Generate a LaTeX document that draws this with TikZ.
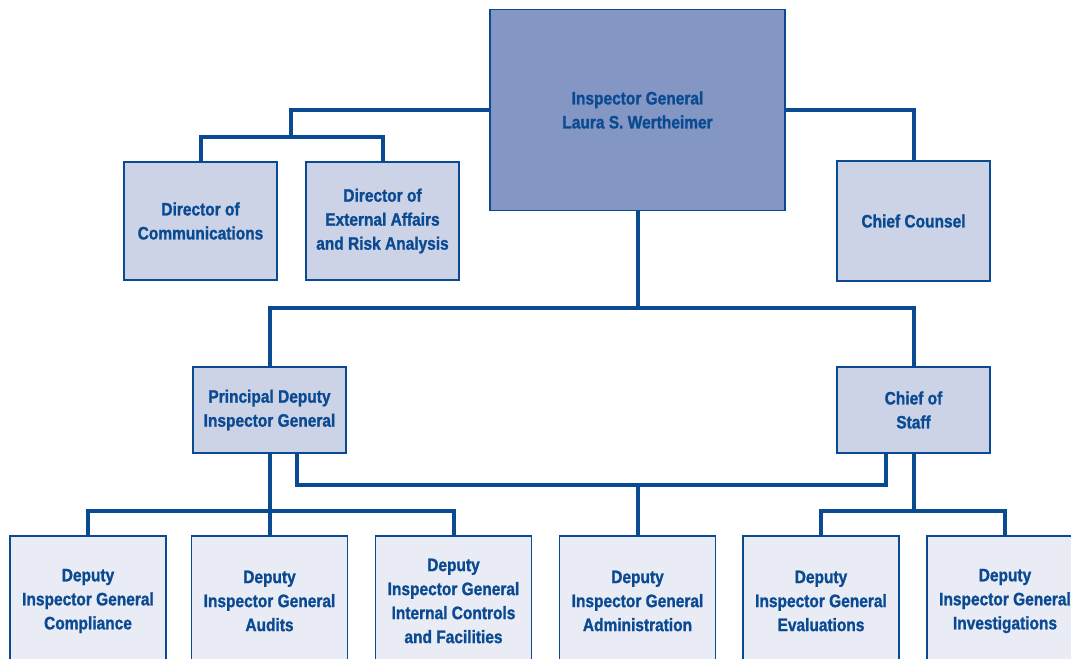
\documentclass[tikz,border=0pt]{standalone}
\usepackage{fontspec}
\newfontfamily\orgfont[FakeStretch=0.86, BoldFeatures={FakeBold=1.2}]{Liberation Sans}
\usetikzlibrary{positioning, calc}
\definecolor{oigblue}{RGB}{10, 74, 146}
\definecolor{topfill}{RGB}{132, 150, 196}
\definecolor{midfill}{RGB}{205, 211, 230}
\definecolor{lowfill}{RGB}{233, 235, 245}

\begin{document}
\begin{tikzpicture}[
  x=0.75pt, y=-0.75pt,
  box/.style={draw=oigblue, line width=0.9pt, align=center, inner sep=2pt,
    text=oigblue, font=\orgfont\bfseries\fontsize{13.5}{18}\selectfont},
  office/.style={box, fill=midfill, minimum width=114.75pt, minimum height=88.5pt},
  deputy/.style={box, fill=midfill, minimum width=114.75pt, minimum height=64.5pt},
  unit/.style={box, fill=lowfill, minimum width=117pt, minimum height=97.5pt},
  link/.style={draw=oigblue, line width=3pt, line join=miter},
]
\useasboundingbox (0,0) rectangle (1071,658);

% Inspector General
\node[box, fill=topfill, minimum width=221.25pt, minimum height=150.75pt] (ig) at (637.5,110)
{Inspector General\\Laura S. Wertheimer};

% Immediate office
\node[office] (comm) at (200.5,221) {Director of\\Communications};
\node[office] (ext) at (382.5,221) {Director of\\External Affairs\\and Risk Analysis};
\node[office, minimum height=90pt] (counsel) at (913.5,221) {Chief Counsel};

% Deputies
\node[deputy] (pdig) at (269.5,410) {Principal Deputy\\Inspector General};
\node[deputy] (cos) at (913.5,410) {Chief of\\Staff};

% Offices of the deputy inspectors general
\node[unit] (compl) at (88,601) {Deputy\\Inspector General\\Compliance};
\node[unit] (audits) at (269.5,601) {Deputy\\Inspector General\\Audits};
\node[unit] (intc) at (453.5,601) {Deputy\\Inspector General\\Internal Controls\\and Facilities};
\node[unit] (admin) at (637.5,601) {Deputy\\Inspector General\\Administration};
\node[unit] (eval) at (821,601) {Deputy\\Inspector General\\Evaluations};
\node[unit] (invest) at (1005,601) {Deputy\\Inspector General\\Investigations};

% Bus points
\coordinate (dirbus) at (291,137);
\coordinate (midbus) at (637.5,308);
\coordinate (pbus) at (269.5,511);
\coordinate (admbus) at (637.5,485);
\coordinate (cbus) at (913.5,511);

% Connectors
\draw[link] (ig.west) -| (dirbus);
\draw[link] (comm.north) |- (dirbus) -| (ext.north);
\draw[link] (ig.east) -| (counsel.north);
\draw[link] (ig.south) -- (midbus);
\draw[link] (pdig.north) |- (midbus) -| (cos.north);
\draw[link] (pdig.south) -- (pbus);
\draw[link] (compl.north) |- (pbus) -| (intc.north);
\draw[link] (pbus) -- (audits.north);
\draw[link] ([xshift=20.6pt]pdig.south) |- (admbus) -| ([xshift=-20.6pt]cos.south);
\draw[link] (admbus) -- (admin.north);
\draw[link] (cos.south) -- (cbus);
\draw[link] (eval.north) |- (cbus) -| (invest.north);
\end{tikzpicture}
\end{document}
